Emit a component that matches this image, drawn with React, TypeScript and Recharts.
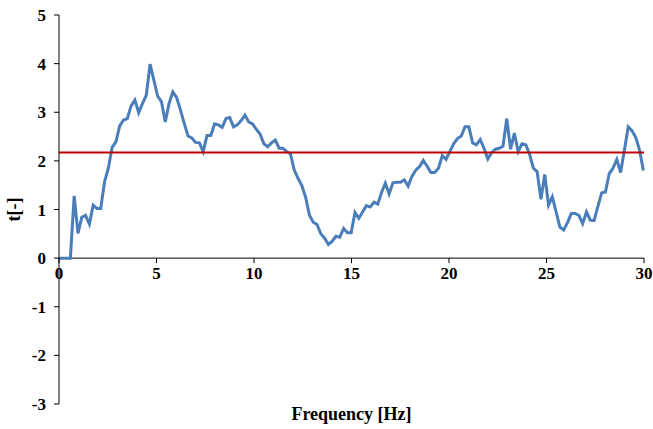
import React from 'react';
import { LineChart, Line, XAxis, YAxis, ReferenceLine, ReferenceDot } from 'recharts';

// frequency resolution of the spectrum (Hz per sample)
const FREQ_STEP = 0.1946;

// t[-], one value per frequency bin starting at 0 Hz
const T_VALUES = [
  0, 0, 0, 0, 1.28, 0.51, 0.84, 0.88, 0.7, 1.09,
  1.02, 1.02, 1.57, 1.85, 2.28, 2.39, 2.72, 2.84, 2.87, 3.13,
  3.25, 2.99, 3.18, 3.35, 3.99, 3.66, 3.33, 3.22, 2.8, 3.18,
  3.42, 3.3, 3.05, 2.77, 2.51, 2.47, 2.38, 2.37, 2.19, 2.52,
  2.52, 2.76, 2.74, 2.69, 2.87, 2.89, 2.7, 2.74, 2.83, 2.94,
  2.8, 2.76, 2.65, 2.55, 2.35, 2.29, 2.37, 2.43, 2.26, 2.26,
  2.19, 2.14, 1.81, 1.64, 1.49, 1.25, 0.88, 0.74, 0.69, 0.5,
  0.41, 0.28, 0.35, 0.45, 0.43, 0.61, 0.52, 0.52, 0.94, 0.82,
  0.95, 1.08, 1.05, 1.15, 1.11, 1.35, 1.54, 1.32, 1.55, 1.56,
  1.56, 1.61, 1.48, 1.68, 1.81, 1.88, 2.01, 1.89, 1.76, 1.76,
  1.85, 2.11, 2.03, 2.19, 2.35, 2.46, 2.51, 2.7, 2.7, 2.37,
  2.33, 2.44, 2.26, 2.04, 2.17, 2.24, 2.26, 2.3, 2.87, 2.24,
  2.57, 2.19, 2.35, 2.33, 2.14, 1.85, 1.78, 1.21, 1.72, 1.09,
  1.26, 0.95, 0.64, 0.58, 0.73, 0.92, 0.92, 0.88, 0.71, 0.95,
  0.78, 0.77, 1.06, 1.34, 1.36, 1.74, 1.85, 2.03, 1.76, 2.22,
  2.7, 2.62, 2.48, 2.22, 1.8,
];

const THRESHOLD = 2.17;

const X_TICKS = [0, 5, 10, 15, 20, 25, 30];
const Y_TICKS = [-3, -2, -1, 0, 1, 2, 3, 4, 5];

const FONT = '"Liberation Serif", "Times New Roman", serif';

const data = T_VALUES.map((t, i) => ({ f: i * FREQ_STEP, t }));

// x tick mark + label, hung under the zero line
const XTick = ({ cx, cy, label }: { cx: number; cy: number; label: number }) => (
  <g>
    <line x1={cx} y1={cy} x2={cx} y2={cy + 5} stroke="#000" strokeWidth={1} />
    <text x={cx} y={cy + 21} textAnchor="middle" fontFamily={FONT} fontWeight="bold" fontSize={17} fill="#000">
      {label}
    </text>
  </g>
);

export default function App() {
  return (
    <div style={{ position: 'absolute', left: 0, top: 0, width: 653, height: 429, background: '#fff' }}>
      <LineChart width={653} height={429} data={data} margin={{ top: 15, right: 9, left: 0, bottom: 0 }}>
        <XAxis
          dataKey="f"
          type="number"
          domain={[0, 30]}
          ticks={X_TICKS}
          tick={false}
          tickLine={false}
          axisLine={false}
          height={25}
          label={{
            value: 'Frequency [Hz]',
            position: 'insideBottom',
            offset: 9,
            style: { fontFamily: FONT, fontWeight: 'bold', fontSize: 18, fill: '#000' },
          }}
        />
        <YAxis
          type="number"
          domain={[-3, 5]}
          ticks={Y_TICKS}
          interval={0}
          width={59}
          tickSize={5}
          tickMargin={8}
          axisLine={{ stroke: '#000', strokeWidth: 1 }}
          tickLine={{ stroke: '#000', strokeWidth: 1 }}
          tick={{ fontFamily: FONT, fontWeight: 'bold', fontSize: 17, fill: '#000' }}
          label={{
            value: 't[-]',
            angle: -90,
            position: 'insideLeft',
            offset: 14,
            style: { textAnchor: 'middle', fontFamily: FONT, fontWeight: 'bold', fontSize: 18, fill: '#000' },
          }}
        />
        <ReferenceLine y={0} stroke="#000" strokeWidth={1} />
        {X_TICKS.map((t) => (
          <ReferenceDot
            key={t}
            x={t}
            y={0}
            r={0}
            shape={(p: any) => <XTick cx={p.cx} cy={p.cy} label={t} />}
          />
        ))}
        <Line
          type="linear"
          dataKey="t"
          stroke="#4a7ebb"
          strokeWidth={3}
          dot={false}
          isAnimationActive={false}
        />
        <ReferenceLine y={THRESHOLD} stroke="#c00000" strokeWidth={2} />
      </LineChart>
    </div>
  );
}
